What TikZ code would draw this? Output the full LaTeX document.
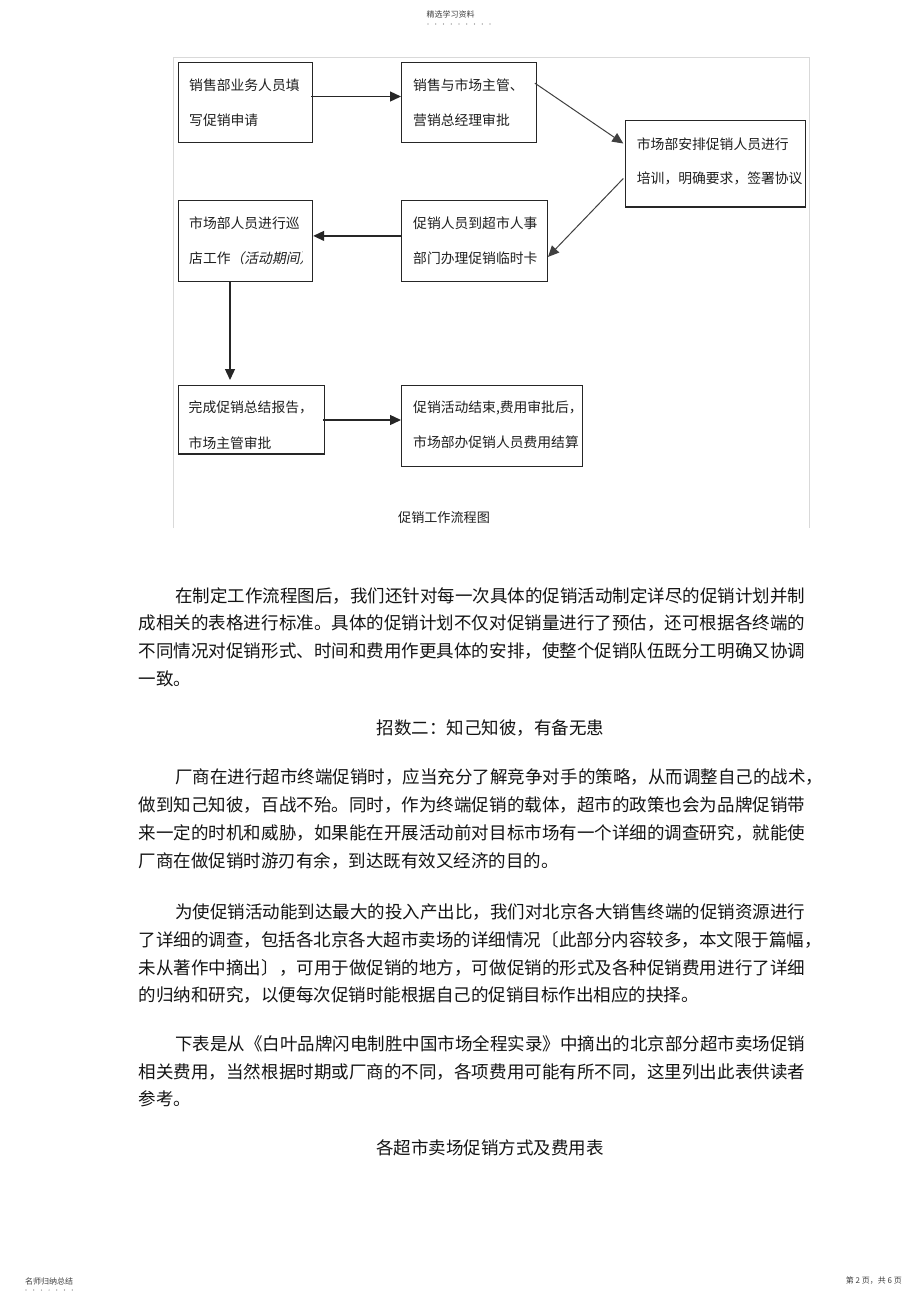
\documentclass[tikz,border=0pt]{standalone}
\usepackage{fontspec}
\setmainfont{Noto Sans CJK SC}
\newfontfamily\slantcjk[FakeSlant=0.2]{Noto Sans CJK SC}
\usetikzlibrary{arrows.meta,calc}
\def\jspread#1{\ifx#1\relax\else#1\expandafter\jspreadnext\fi}
\def\jspreadnext#1{\ifx#1\relax\else\hfil#1\expandafter\jspreadnext\fi}
\newcommand\jline[2]{\hbox to #1{\jspread#2\relax}}
\tikzset{
  flowbox/.style={draw=black!85, line width=1.3pt, inner sep=0pt, anchor=north west, rectangle},
  boxtext/.style={anchor=west, inner sep=0pt, font=\fontsize{13.8pt}{16pt}\selectfont, text=black!88},
  arr/.style={draw=black!85, line width=1.3pt, -{Triangle[length=11pt,width=10pt]}},
  darr/.style={draw=black!75, line width=1.0pt, -{Triangle[length=11pt,width=10pt]}},
  body/.style={anchor=west, inner sep=0pt, font=\fontsize{17.5pt}{20pt}\selectfont, text=black!92},
  bodyc/.style={body, anchor=center},
  small/.style={inner sep=0pt, font=\fontsize{8pt}{9pt}\selectfont, text=black!75},
  framec/.style={draw=black!15, line width=1pt},
}
\begin{document}
\begin{tikzpicture}[x=1pt,y=-1pt]
\useasboundingbox[fill=white] (0,0) rectangle (920,1304);

% header
\node[small] (hdr) at (450.5,14.3) {精选学习资料};
\foreach \i in {0,...,8} \fill[black!55] (428+\i*7.75,24) circle (0.6);

% frame
\draw[framec] (173,528) -- (173,57) -- (809,57) -- (809,528);

% boxes
\node[flowbox, minimum width=134.4pt, minimum height=80.6pt] (b1) at (177.5,61.5) {};
\node[flowbox, minimum width=134.5pt, minimum height=80.6pt] (b2) at (401,61.5) {};
\node[flowbox, minimum width=180pt, minimum height=86.7pt] (b3) at (625,119.5) {};
\node[flowbox, minimum width=134.4pt, minimum height=81.4pt] (b4) at (177.5,199.5) {};
\node[flowbox, minimum width=145.7pt, minimum height=81.4pt] (b5) at (401,199.5) {};
\node[flowbox, minimum width=146pt, minimum height=68.3pt] (b6) at (177.5,385) {};
\node[flowbox, minimum width=180.7pt, minimum height=81pt] (b7) at (401,385) {};

% box texts
\node[boxtext] (t1a) at ($(b1.north west)+(11.5,23.3)$) {销售部业务人员填};
\node[boxtext] (t1b) at ($(b1.north west)+(11.5,59)$) {写促销申请};
\node[boxtext] (t2a) at ($(b2.north west)+(12,23.3)$) {销售与市场主管、};
\node[boxtext] (t2b) at ($(b2.north west)+(12,59)$) {营销总经理审批};
\node[boxtext] (t3a) at ($(b3.north west)+(11.7,25)$) {市场部安排促销人员进行};
\node[boxtext] (t3b) at ($(b3.north west)+(11.7,59)$) {培训，明确要求，签署协议};
\node[boxtext] (t4a) at ($(b4.north west)+(11.5,24)$) {市场部人员进行巡};
\begin{scope}
\clip ($(b4.north west)+(1,1)$) rectangle ($(b4.south east)+(-11,-1)$);
\node[boxtext] (t4b) at ($(b4.north west)+(11.5,59)$) {店工作{\slantcjk （活动期间）}};
\end{scope}
\node[boxtext] (t5a) at ($(b5.north west)+(12,24)$) {促销人员到超市人事};
\node[boxtext] (t5b) at ($(b5.north west)+(12,59)$) {部门办理促销临时卡};
\node[boxtext] (t6a) at ($(b6.north west)+(11,22.7)$) {完成促销总结报告，};
\node[boxtext] (t6b) at ($(b6.north west)+(11,58)$) {市场主管审批};
\node[boxtext] (t7a) at ($(b7.north west)+(12,22.7)$) {促销活动结束,费用审批后，};
\node[boxtext] (t7b) at ($(b7.north west)+(12,57.7)$) {市场部办促销人员费用结算};

% connectors
\draw[arr] ($(b1.north east)+(-2,35)$) -- ($(b2.north west)+(0,35)$);
\draw[darr] ($(b2.north east)+(-2,21.6)$) -- ($(b3.north west)+(-1.7,24)$);
\draw[darr] ($(b3.north west)+(-1.7,59)$) -- ($(b5.north east)+(0,57.4)$);
\draw[arr] ($(b5.north west)+(0,36.4)$) -- ($(b4.north east)+(0,36.4)$);
\draw[arr] ($(b4.south west)+(52.5,0)$) -- ($(b6.north west)+(52.5,-5)$);
\draw[arr] ($(b6.north east)+(-2,35)$) -- ($(b7.north west)+(0,35)$);

% caption
\node[boxtext, anchor=center, font=\fontsize{13.1pt}{15pt}\selectfont] (cap) at (444,518) {促销工作流程图};

% body paragraph 1
\node[body] (p1a) at (175,595.7) {\jline{630pt}{在制定工作流程图后，我们还针对每一次具体的促销活动制定详尽的促销计划并制}};
\node[body] (p1b) at (138.5,623.3) {\jline{666.5pt}{成相关的表格进行标准。具体的促销计划不仅对促销量进行了预估，还可根据各终端的}};
\node[body] (p1c) at (138.5,651) {\jline{666.5pt}{不同情况对促销形式、时间和费用作更具体的安排，使整个促销队伍既分工明确又协调}};
\node[body] (p1d) at (138.5,679) {一致。};

\node[bodyc] (h1) at (490.5,727.7) {招数二：知己知彼，有备无患};

% paragraph 2
\node[body] (p2a) at (175,776.7) {\jline{648pt}{厂商在进行超市终端促销时，应当充分了解竞争对手的策略，从而调整自己的战术，}};
\node[body] (p2b) at (138.5,805) {\jline{666.5pt}{做到知己知彼，百战不殆。同时，作为终端促销的载体，超市的政策也会为品牌促销带}};
\node[body] (p2c) at (138.5,833) {\jline{666.5pt}{来一定的时机和威胁，如果能在开展活动前对目标市场有一个详细的调查研究，就能使}};
\node[body] (p2d) at (138.5,860.5) {厂商在做促销时游刃有余，到达既有效又经济的目的。};

% paragraph 3
\node[body] (p3a) at (175,911.7) {\jline{630pt}{为使促销活动能到达最大的投入产出比，我们对北京各大销售终端的促销资源进行}};
\node[body] (p3b) at (138.5,940) {\jline{683pt}{了详细的调查，包括各北京各大超市卖场的详细情况〔此部分内容较多，本文限于篇幅，}};
\node[body] (p3c) at (138.5,968) {\jline{666.5pt}{未从著作中摘出〕，可用于做促销的地方，可做促销的形式及各种促销费用进行了详细}};
\node[body] (p3d) at (138.5,995.5) {的归纳和研究，以便每次促销时能根据自己的促销目标作出相应的抉择。};

% paragraph 4
\node[body] (p4a) at (175,1043.5) {\jline{630pt}{下表是从《白叶品牌闪电制胜中国市场全程实录》中摘出的北京部分超市卖场促销}};
\node[body] (p4b) at (138.5,1071.7) {\jline{666.5pt}{相关费用，当然根据时期或厂商的不同，各项费用可能有所不同，这里列出此表供读者}};
\node[body] (p4c) at (138.5,1099) {参考。};

\node[bodyc] (h2) at (490,1148.3) {各超市卖场促销方式及费用表};

% footer
\node[small, anchor=west] (fl) at (25,1281) {名师归纳总结};
\foreach \i in {0,...,6} \fill[black!55] (26+\i*7.7,1290) circle (0.6);
\node[small, anchor=east] (fr) at (902,1281) {第 2 页，共 6 页};
\end{tikzpicture}
\end{document}
